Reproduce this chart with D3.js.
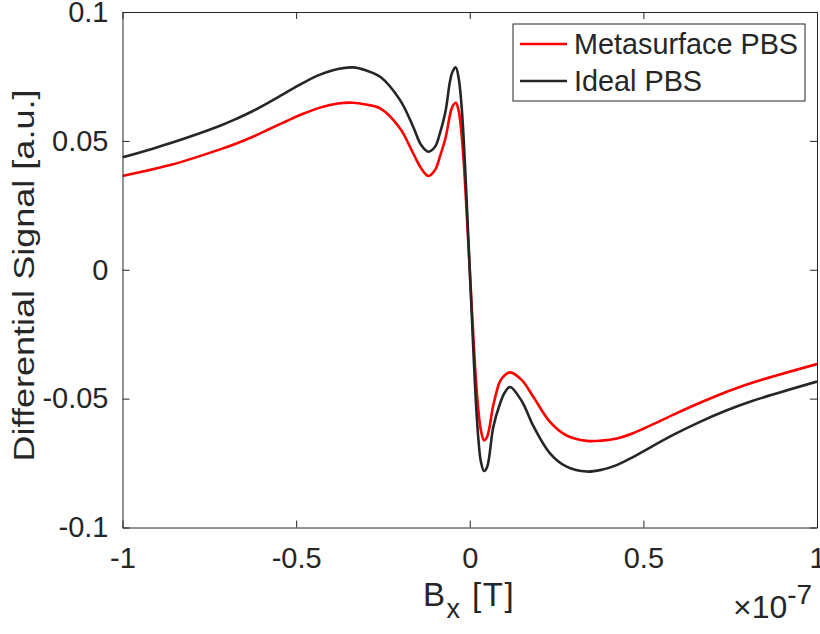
<!DOCTYPE html>
<html>
<head>
<meta charset="utf-8">
<script src="https://cdn.jsdelivr.net/npm/d3@7"></script>
<style>
  body { margin: 0; background: #fff; }
  svg { display: block; }
  text { font-family: "Liberation Sans", Arial, Helvetica, sans-serif; fill: #262626; }
</style>
</head>
<body>
<svg id="chart" width="820" height="634"></svg>
<script>
// ---- data (x in units of 1e-7 T) ----
const xTicks = [-1, -0.5, 0, 0.5, 1];
const xTickLabels = ["-1", "-0.5", "0", "0.5", "1"];
const yTicks = [-0.1, -0.05, 0, 0.05, 0.1];
const yTickLabels = ["-0.1", "-0.05", "0", "0.05", "0.1"];
const seriesNames = ["Metasurface PBS", "Ideal PBS"];

const bx = [-1.0, -0.863, -0.719, -0.67, -0.623, -0.575, -0.527, -0.48, -0.431, -0.38, -0.336, -0.30, -0.258, -0.201, -0.163, -0.14, -0.119, -0.10, -0.086, -0.07, -0.057, -0.050, -0.040, -0.032, -0.025, -0.018, -0.010, -0.005, 0,
            0.005, 0.010, 0.018, 0.025, 0.032, 0.041, 0.050, 0.068, 0.087, 0.10, 0.116, 0.15, 0.183, 0.231, 0.279, 0.337, 0.38, 0.423, 0.47, 0.519, 0.59, 0.663, 0.735, 0.807, 1.0];

const metasurface = [0.0364, 0.0406, 0.0467, 0.0491, 0.0517, 0.0547, 0.0577, 0.0605, 0.0629, 0.0645, 0.0648, 0.0641, 0.0626, 0.0549, 0.0452, 0.0394, 0.0364, 0.0387, 0.0439, 0.0510, 0.0600, 0.0633, 0.0648, 0.0617, 0.0547, 0.0432, 0.0250, 0.0125, 0,
                     -0.0125, -0.0250, -0.0432, -0.0547, -0.0622, -0.0662, -0.0648, -0.0525, -0.0433, -0.0410, -0.0398, -0.0428, -0.0493, -0.0590, -0.0643, -0.0664, -0.0663, -0.0655, -0.0634, -0.0605, -0.0560, -0.0516, -0.0476, -0.0441, -0.0366];

const ideal = [0.0436, 0.0491, 0.0559, 0.0587, 0.0617, 0.0652, 0.0689, 0.0725, 0.0757, 0.0779, 0.0785, 0.0774, 0.0749, 0.0659, 0.0555, 0.0484, 0.0458, 0.0477, 0.0529, 0.0613, 0.0730, 0.0767, 0.0785, 0.0744, 0.0659, 0.0520, 0.0300, 0.0150, 0,
               -0.0150, -0.0300, -0.0520, -0.0659, -0.0744, -0.0781, -0.0765, -0.0609, -0.0520, -0.0478, -0.0455, -0.0510, -0.0606, -0.0712, -0.0764, -0.0783, -0.0776, -0.0758, -0.0727, -0.0690, -0.0638, -0.0590, -0.0548, -0.0512, -0.0434];

const colors = ["#ff0000", "#262626"];

// ---- layout ----
const svg = d3.select("#chart");
const L = 122.5, R = 817, T = 12, B = 527.5;
const x = d3.scaleLinear().domain([-1, 1]).range([L, R]);
const y = d3.scaleLinear().domain([-0.1, 0.1]).range([B, T]);
const axisColor = "#262626";
const tickLen = 7;

// curves
const line = d3.line().x(d => x(d[0])).y(d => y(d[1])).curve(d3.curveCatmullRom.alpha(0.5));
const series = [metasurface, ideal];
const plot = svg.append("g");
plot.append("clipPath").attr("id", "clip").append("rect")
  .attr("x", L).attr("y", T).attr("width", R - L).attr("height", B - T);
series.forEach((vals, i) => {
  plot.append("path")
    .datum(bx.map((v, j) => [v, vals[j]]))
    .attr("d", line)
    .attr("fill", "none")
    .attr("stroke", colors[i])
    .attr("stroke-width", 2.6)
    .attr("stroke-linejoin", "round")
    .attr("clip-path", "url(#clip)");
});

// axes (MATLAB box style, ticks inward on all sides)
const xAxisB = d3.axisBottom(x).tickValues(xTicks).tickSizeInner(-tickLen).tickSizeOuter(0).tickFormat((d, i) => xTickLabels[i]).tickPadding(tickLen + 13);
const xAxisT = d3.axisTop(x).tickValues(xTicks).tickSizeInner(-tickLen).tickSizeOuter(0).tickFormat("");
const yAxisL = d3.axisLeft(y).tickValues(yTicks).tickSizeInner(-tickLen).tickSizeOuter(0).tickFormat((d, i) => yTickLabels[i]).tickPadding(tickLen + 7);
const yAxisR = d3.axisRight(y).tickValues(yTicks).tickSizeInner(-tickLen).tickSizeOuter(0).tickFormat("");

function styleAxis(g) {
  g.select(".domain").attr("stroke", axisColor).attr("stroke-width", 1);
  g.selectAll(".tick line").attr("stroke", axisColor).attr("stroke-width", 1);
  g.selectAll(".tick text").attr("fill", axisColor).style("font-size", "29px")
    .style("font-family", '"Liberation Sans", Arial, sans-serif');
}
svg.append("g").attr("transform", `translate(0,${B})`).call(xAxisB).call(styleAxis);
svg.append("g").attr("transform", `translate(0,${T})`).call(xAxisT).call(styleAxis);
svg.append("g").attr("transform", `translate(${L},0)`).call(yAxisL).call(styleAxis);
svg.append("g").attr("transform", `translate(${R},0)`).call(yAxisR).call(styleAxis);

// axis labels
const xl = svg.append("text").attr("x", 469).attr("y", 606)
  .attr("text-anchor", "middle").style("font-size", "33px").style("letter-spacing", "1.5px");
xl.append("tspan").text("B");
xl.append("tspan").attr("dy", 12).style("font-size", "27px").text("x");
xl.append("tspan").attr("dy", -12).text(" [T]");

svg.append("text")
  .attr("transform", `translate(34,275.5) rotate(-90)`)
  .attr("text-anchor", "middle").style("font-size", "30px")
  .attr("textLength", 372).attr("lengthAdjust", "spacingAndGlyphs")
  .text("Differential Signal [a.u.]");

// exponent
const ex = svg.append("text").attr("x", 733).attr("y", 618).style("font-size", "32px");
ex.append("tspan").text("\u00d710");
ex.append("tspan").attr("dy", -14).style("font-size", "28px").text("-7");

// legend
const lg = svg.append("g");
lg.append("rect").attr("x", 513).attr("y", 24).attr("width", 292).attr("height", 77)
  .attr("fill", "#fff").attr("stroke", axisColor).attr("stroke-width", 1);
seriesNames.forEach((name, i) => {
  const cy = 44 + i * 37;
  lg.append("line").attr("x1", 520).attr("x2", 567).attr("y1", cy).attr("y2", cy)
    .attr("stroke", colors[i]).attr("stroke-width", 2.6);
  lg.append("text").attr("x", 574).attr("y", cy + 10).style("font-size", "28.8px").text(name);
});
</script>
</body>
</html>
